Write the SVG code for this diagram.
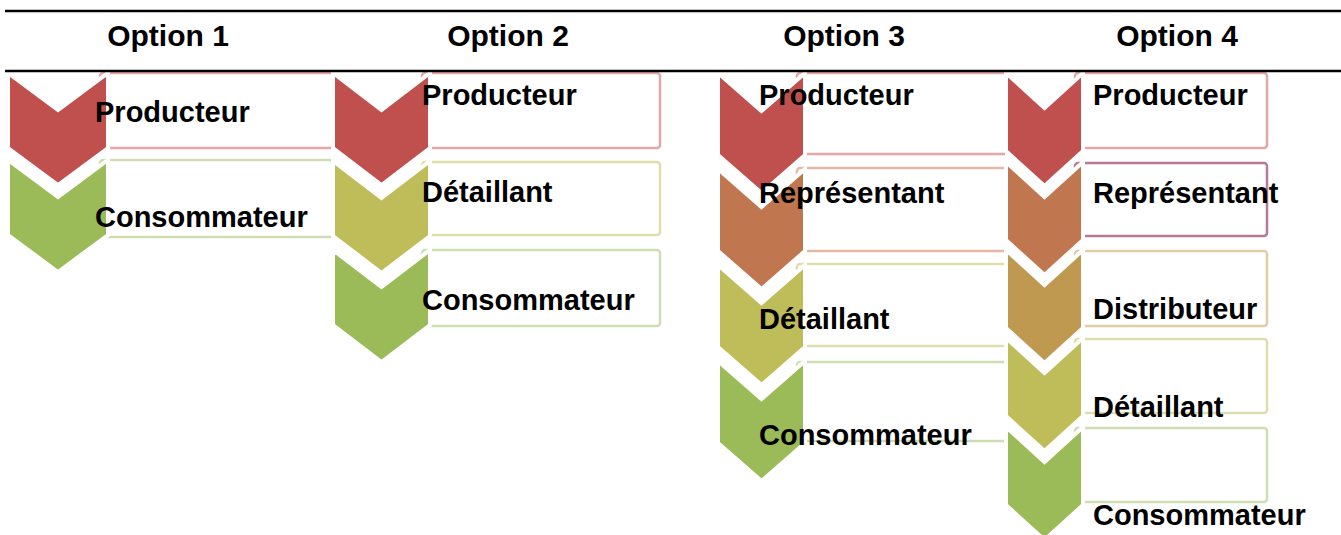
<svg xmlns="http://www.w3.org/2000/svg" width="1341" height="535" viewBox="0 0 1341 535">
<style>
.hd{font-family:"Liberation Sans",Arial,sans-serif;font-weight:bold;font-size:30px;fill:#000;text-anchor:middle}
.lb{font-family:"Liberation Sans",Arial,sans-serif;font-weight:bold;font-size:29px;fill:#000}
.ch{stroke:#fff;stroke-width:4;stroke-linejoin:miter}
.bx{fill:#fff;stroke-width:2.5}
.red{fill:#C0504D}.org{fill:#C0774F}.brn{fill:#BF9950}.olv{fill:#BFBD5A}.grn{fill:#9BBB59}
.bred{stroke:#E2A7A6}.borg{stroke:#E3B9A6}.bprp{stroke:#B57A95}.bbrn{stroke:#E1CCA6}.bolv{stroke:#DEDDAC}.bgrn{stroke:#CEDEB2}
.rule{stroke:#000;stroke-width:2.5}
</style>
<defs>
<clipPath id="c3"><rect x="700" y="60" width="305" height="475"/></clipPath>
</defs>
<rect width="1341" height="535" fill="#fff"/>

<g id="option1">
<rect class="bx bred" x="100" y="73" width="233" height="75" rx="3"/>
<rect class="bx bgrn" x="100" y="160" width="233" height="77" rx="3"/>
<polygon class="ch red" points="8,73 58,110 108,73 108,148 58,185 8,148"/>
<polygon class="ch grn" points="8,160 58,197 108,160 108,235 58,272 8,235"/>
<text class="lb" x="95" y="122">Producteur</text>
<text class="lb" x="95" y="227">Consommateur</text>
</g>

<g id="option2">
<rect class="bx bred" x="422" y="73" width="238" height="75" rx="3"/>
<rect class="bx bolv" x="422" y="162" width="238" height="73" rx="3"/>
<rect class="bx bgrn" x="422" y="250" width="238" height="76" rx="3"/>
<polygon class="ch red" points="333,73 381.5,110 430,73 430,148 381.5,185 333,148"/>
<polygon class="ch olv" points="333,161 381.5,198 430,161 430,236 381.5,273 333,236"/>
<polygon class="ch grn" points="333,250 381.5,287 430,250 430,325 381.5,362 333,325"/>
<text class="lb" x="422" y="105">Producteur</text>
<text class="lb" x="422" y="202">Détaillant</text>
<text class="lb" x="422" y="310">Consommateur</text>
</g>

<g id="option3">
<g clip-path="url(#c3)">
<rect class="bx bred" x="797" y="73" width="220" height="81" rx="3"/>
<rect class="bx borg" x="797" y="168" width="220" height="83" rx="3"/>
<rect class="bx bolv" x="797" y="264" width="220" height="82" rx="3"/>
<rect class="bx bgrn" x="797" y="362" width="220" height="79" rx="3"/>
</g>
<polygon class="ch red" points="718,73 761.5,111 805,73 805,155 761.5,193 718,155"/>
<polygon class="ch org" points="718,169 761.5,207 805,169 805,251 761.5,289 718,251"/>
<polygon class="ch olv" points="718,265 761.5,303 805,265 805,347 761.5,385 718,347"/>
<polygon class="ch grn" points="718,361 761.5,399 805,361 805,443 761.5,481 718,443"/>
<text class="lb" x="759" y="105">Producteur</text>
<text class="lb" x="759" y="203">Représentant</text>
<text class="lb" x="759" y="329">Détaillant</text>
<text class="lb" x="759" y="445">Consommateur</text>
</g>

<g id="option4">
<rect class="bx bred" x="1075" y="73" width="192" height="75" rx="3"/>
<rect class="bx bprp" x="1075" y="163" width="192" height="73" rx="3"/>
<rect class="bx bbrn" x="1075" y="251" width="192" height="75" rx="3"/>
<rect class="bx bolv" x="1075" y="339" width="192" height="74" rx="3"/>
<rect class="bx bgrn" x="1075" y="428" width="192" height="74" rx="3"/>
<polygon class="ch red" points="1006,73 1044.5,108 1083,73 1083,151 1044.5,186 1006,151"/>
<polygon class="ch org" points="1006,162 1044.5,197 1083,162 1083,240 1044.5,275 1006,240"/>
<polygon class="ch brn" points="1006,250 1044.5,285 1083,250 1083,328 1044.5,363 1006,328"/>
<polygon class="ch olv" points="1006,338 1044.5,373 1083,338 1083,416 1044.5,451 1006,416"/>
<polygon class="ch grn" points="1006,427 1044.5,462 1083,427 1083,505 1044.5,540 1006,505"/>
<text class="lb" x="1093" y="105">Producteur</text>
<text class="lb" x="1093" y="203">Représentant</text>
<text class="lb" x="1093" y="319">Distributeur</text>
<text class="lb" x="1093" y="417">Détaillant</text>
<text class="lb" x="1093" y="525">Consommateur</text>
</g>

<g id="table">
<line class="rule" x1="5" y1="11" x2="1341" y2="11"/>
<line class="rule" x1="5" y1="71" x2="1341" y2="71"/>
<text class="hd" x="168" y="46">Option 1</text>
<text class="hd" x="508" y="46">Option 2</text>
<text class="hd" x="844" y="46">Option 3</text>
<text class="hd" x="1177" y="46">Option 4</text>
</g>
</svg>
